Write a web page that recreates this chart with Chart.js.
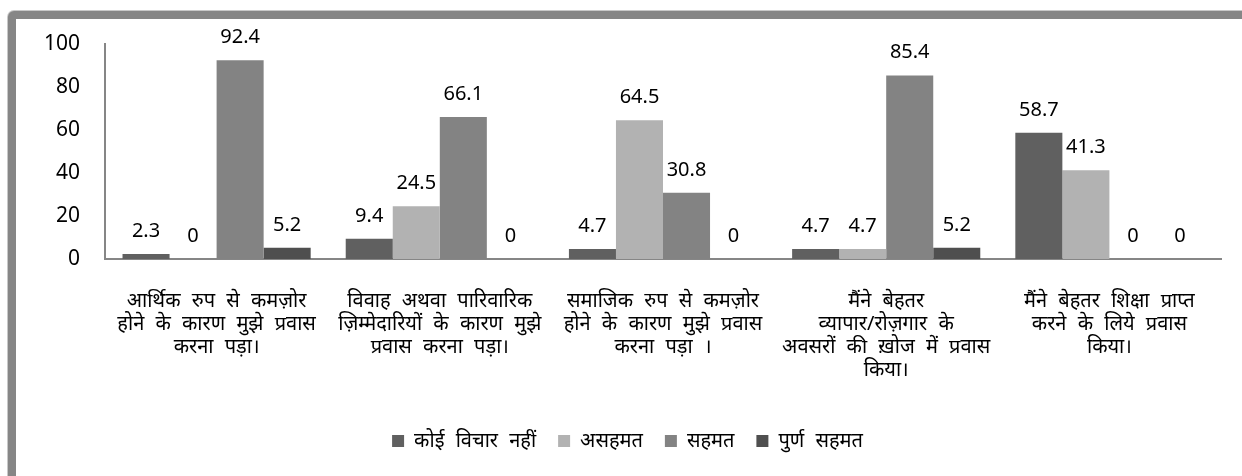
<!DOCTYPE html>
<html>
<head>
<meta charset="utf-8">
<script src="https://cdn.jsdelivr.net/npm/chart.js@4"></script>
<style>
  html, body { margin: 0; padding: 0; background: #fff; overflow: hidden; }
  .frame {
    position: absolute; left: 8px; top: 11px;
    width: 1300px; height: 520px;
    border: 8px solid #868686; border-radius: 6px;
    box-shadow: 0 0 0 1px #c8c8c8;
    background: #fff;
  }
  #migrationChart { position: absolute; left: 0; top: 0; }
</style>
</head>
<body>
<div class="frame">
  <canvas id="migrationChart" width="1226" height="457"></canvas>
</div>
<script>
// categories (reasons for migration)
const categories = [
  ['आर्थिक रुप से कमज़ोर', 'होने के कारण मुझे प्रवास', 'करना पड़ा।'],
  ['विवाह अथवा पारिवारिक', 'ज़िम्मेदारियों के कारण मुझे', 'प्रवास करना पड़ा।'],
  ['समाजिक रुप से कमज़ोर', 'होने के कारण मुझे प्रवास', 'करना पड़ा ।'],
  ['मैंने बेहतर', 'व्यापार/रोज़गार के', 'अवसरों की ख़ोज में प्रवास', 'किया।'],
  ['मैंने बेहतर शिक्षा प्राप्त', 'करने के लिये प्रवास', 'किया।']
];

const seriesNames = ['कोई विचार नहीं', 'असहमत', 'सहमत', 'पुर्ण सहमत'];
const noOpinion = [2.3, 9.4, 4.7, 4.7, 58.7];
const disagree = [0, 24.5, 64.5, 4.7, 41.3];
const agree = [92.4, 66.1, 30.8, 85.4, 0];
const stronglyAgree = [5.2, 0, 0, 5.2, 0];
const seriesColors = ['#606060', '#b2b2b2', '#838383', '#4f4f4f'];

const yTicks = [0, 20, 40, 60, 80, 100];

const hindiFont = '"Noto Sans", "Noto Sans Devanagari", "Lohit Devanagari", sans-serif';
const numFont = '"Noto Sans", "Open Sans", sans-serif';

// wider word gaps, like the original Devanagari font
const wideWords = {
  id: 'wideWords',
  beforeInit(chart) { chart.ctx.wordSpacing = '6px'; },
  beforeDraw(chart) { chart.ctx.wordSpacing = '6px'; }
};

// draws the value above each bar
const valueLabels = {
  id: 'valueLabels',
  afterDatasetsDraw(chart) {
    const ctx = chart.ctx;
    ctx.save();
    ctx.wordSpacing = '0px';
    ctx.font = '20px ' + numFont;
    ctx.fillStyle = '#000';
    ctx.textAlign = 'center';
    ctx.textBaseline = 'alphabetic';
    chart.data.datasets.forEach((ds, i) => {
      chart.getDatasetMeta(i).data.forEach((bar, j) => {
        ctx.fillText(String(ds.data[j]), bar.x, bar.y - 17);
      });
    });
    ctx.restore();
  }
};

const allSeries = [noOpinion, disagree, agree, stronglyAgree];

new Chart(document.getElementById('migrationChart').getContext('2d'), {
  type: 'bar',
  data: {
    labels: categories,
    datasets: allSeries.map((vals, i) => ({
      label: seriesNames[i],
      data: vals,
      backgroundColor: seriesColors[i],
      borderWidth: 0,
      barPercentage: 1,
      categoryPercentage: 0.843
    }))
  },
  options: {
    responsive: false,
    animation: false,
    layout: { padding: { top: 25, right: 21, bottom: 15, left: 0 } },
    plugins: {
      tooltip: { enabled: false },
      legend: {
        position: 'bottom',
        labels: {
          boxWidth: 12,
          boxHeight: 12,
          padding: 22,
          color: '#000',
          font: { size: 20, family: hindiFont }
        }
      }
    },
    scales: {
      x: {
        grid: { display: false, drawTicks: false },
        border: { display: true, color: '#868686', width: 2 },
        ticks: {
          color: '#000',
          maxRotation: 0,
          autoSkip: false,
          padding: 31,
          font: { size: 20, family: hindiFont, lineHeight: 1.15 }
        },
        afterFit(scale) { scale.height = 150; }
      },
      y: {
        min: 0,
        max: 100,
        grid: { display: false, drawTicks: false },
        border: { display: true, color: '#868686', width: 2 },
        afterBuildTicks(scale) { scale.ticks = yTicks.map(v => ({ value: v })); },
        ticks: {
          color: '#000',
          padding: 25,
          font: { size: 21, family: numFont }
        },
        afterFit(scale) {
          scale.width = 89;
          scale.paddingTop = 12;
          scale.paddingBottom = 12;
        }
      }
    }
  },
  plugins: [wideWords, valueLabels]
});
</script>
</body>
</html>
